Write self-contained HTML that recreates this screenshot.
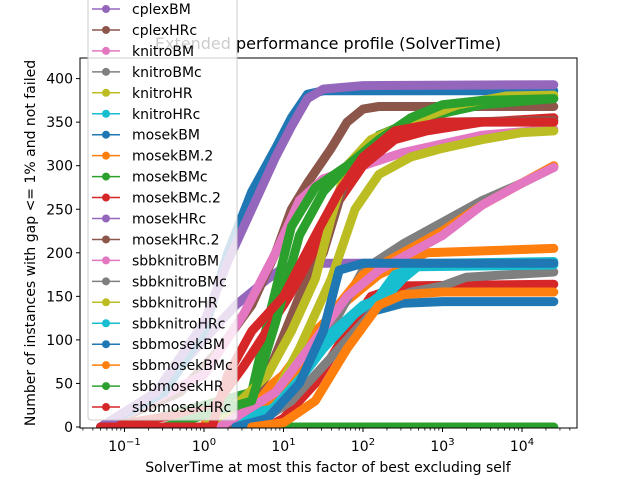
<!DOCTYPE html>
<html><head><meta charset="utf-8"><style>
html,body{margin:0;padding:0;background:#fff;}
svg{display:block;font-family:"DejaVu Sans","Liberation Sans",sans-serif;}
</style></head><body>
<svg id="chart" width="640" height="480" xmlns="http://www.w3.org/2000/svg">
<rect width="640" height="480" fill="#fff"/>
<text x="328" y="49" text-anchor="middle" font-size="16">Extended performance profile (SolverTime)</text>
<defs><clipPath id="plotclip"><rect x="80" y="58" width="497" height="370"/></clipPath></defs>
<g id="series" clip-path="url(#plotclip)"></g>
<rect x="80" y="58" width="497" height="370" fill="none" stroke="#000" stroke-width="1"/>
<g id="axes"></g>
<text x="328" y="472" text-anchor="middle" font-size="14">SolverTime at most this factor of best excluding self</text>
<text transform="translate(35,243) rotate(-90)" text-anchor="middle" font-size="14">Number of instances with gap &lt;= 1% and not failed</text>
<g id="legend"></g>
</svg>
<script>
const seriesNames=["bonminBM","bonminBMc","bonminHR","bonminHRc","cplexBM","cplexHRc","knitroBM","knitroBMc","knitroHR","knitroHRc","mosekBM","mosekBM.2","mosekBMc","mosekBMc.2","mosekHRc","mosekHRc.2","sbbknitroBM","sbbknitroBMc","sbbknitroHR","sbbknitroHRc","sbbmosekBM","sbbmosekBMc","sbbmosekHR","sbbmosekHRc"];
const colors=["#1f77b4","#ff7f0e","#2ca02c","#d62728","#9467bd","#8c564b","#e377c2","#7f7f7f","#bcbd22","#17becf"];
// log10(factor) values and instance counts per series
const s0x=[-1.3,0.3,0.6,1,1.5,2,2.5,3,4.4], s0y=[0,0,5,40,100,130,142,144,144];
const s1x=[-1.3,0,0.1,0.6,1,1.4,1.8,2.2,2.8,4.4], s1y=[0,0,28,30,60,110,145,175,200,205];
const s2x=[0,4.4], s2y=[0,0];
const s3x=[-1.3,0.05,0.8,1,1.4,1.8,2.1,2.5,4.4], s3y=[0,0,0,10,50,110,150,162,164];
const s4x=[-1.3,-0.6,0,0.4,0.8,1,1.3,4.4], s4y=[0,40,100,140,170,183,188,188];
const s5x=[-1.3,-0.3,0.2,0.6,0.9,1.1,1.3,1.6,1.8,2,2.2,4.4], s5y=[0,40,90,140,200,250,280,320,350,365,368,368];
const s6x=[-1.3,0,0.5,0.9,1.2,1.5,2,2.5,3,3.5,4.4], s6y=[0,60,130,200,260,285,300,315,325,335,342];
const s7x=[0.3,0.9,1.3,1.7,2,2.5,3,3.5,4,4.4], s7y=[0,20,70,130,180,210,235,260,280,298];
const s8x=[0.5,0.8,1.2,1.6,1.9,2.2,2.6,3,3.5,4,4.4], s8y=[0,20,90,170,250,290,310,320,330,338,340];
const s9x=[0.4,1,1.5,2,2.3,2.5,2.7,3,4.4], s9y=[0,40,100,140,150,170,185,188,190];
const s10x=[-1.3,-0.5,0,0.3,0.6,0.9,1.1,1.3,1.5,4.4], s10y=[0,40,110,200,270,320,355,382,386,386];
const s11x=[-1.3,0.2,0.4,0.8,1.2,1.6,2,2.5,3,3.5,4,4.4], s11y=[0,0,25,30,70,130,175,200,225,255,280,300];
const s12x=[-1,0.6,0.8,1.1,1.4,1.8,2.2,2.6,3,3.5,4.4], s12y=[0,40,120,230,275,300,335,350,360,370,377];
const s13x=[-1.3,0.1,0.5,1,1.4,1.7,2,2.4,2.8,3.5,4.4], s13y=[0,20,70,140,200,260,300,330,340,350,355];
const s14x=[-1.3,-0.6,0,0.3,0.6,0.9,1.1,1.3,1.5,2,4.4], s14y=[0,40,120,190,250,310,345,377,388,392,393];
const s15x=[0.3,0.8,1.2,1.5,1.8,2,2.4,3,4.4], s15y=[0,60,150,200,290,320,340,350,352];
const s16x=[0.2,0.9,1.4,1.8,2.2,2.6,3,3.5,4,4.4], s16y=[0,40,100,150,180,200,220,255,280,298];
const s17x=[0.6,1.1,1.5,1.9,2.2,2.6,3,3.3,4.4], s17y=[0,30,70,110,140,155,162,172,178];
const s18x=[0,0.4,0.8,1.1,1.4,1.6,1.8,2.1,2.6,3.2,3.8,4.4], s18y=[0,25,60,110,170,240,300,330,350,370,380,381];
const s19x=[0.5,1,1.5,1.9,2.2,2.4,2.7,4.4], s19y=[0,30,90,130,150,175,184,186];
const s20x=[0.4,0.8,1.2,1.5,1.7,2,4.4], s20y=[0,10,50,110,180,188,188];
const s21x=[0.6,1,1.4,1.8,2.2,2.5,3,4.4], s21y=[0,5,30,90,140,152,155,155];
const s22x=[-0.5,0.6,0.9,1.2,1.5,1.8,2.2,2.6,3,3.5,4.4], s22y=[0,30,120,220,270,300,330,355,370,375,377];
const s23x=[-1.3,0.1,0.3,0.6,1,1.4,1.7,2,2.4,3,4.4], s23y=[0,0,60,110,150,220,270,310,340,350,350];
const xs=[s0x,s1x,s2x,s3x,s4x,s5x,s6x,s7x,s8x,s9x,s10x,s11x,s12x,s13x,s14x,s15x,s16x,s17x,s18x,s19x,s20x,s21x,s22x,s23x];
const ys=[s0y,s1y,s2y,s3y,s4y,s5y,s6y,s7y,s8y,s9y,s10y,s11y,s12y,s13y,s14y,s15y,s16y,s17y,s18y,s19y,s20y,s21y,s22y,s23y];
const yTicks=[0,50,100,150,200,250,300,350,400];
const xTickExps=[-1,0,1,2,3,4];

const NS="http://www.w3.org/2000/svg";
function X(lx){return 204+79.5*lx;}
function Y(v){return 427-0.871*v;}
function mk(tag,attrs,parent){const e=document.createElementNS(NS,tag);for(const k in attrs)e.setAttribute(k,attrs[k]);parent.appendChild(e);return e;}
const sg=document.getElementById('series');
for(let i=0;i<xs.length;i++){
  const pts=xs[i].map((x,j)=>X(x).toFixed(1)+","+Y(ys[i][j]).toFixed(1)).join(" ");
  const pl=mk('polyline',{points:pts,fill:"none",stroke:colors[i%10],"stroke-width":9,"stroke-linejoin":"round","stroke-linecap":"round"},sg);
  
  
}
const ax=document.getElementById('axes');
yTicks.forEach(v=>{
  const t=mk('line',{x1:76,x2:80,y1:Y(v),y2:Y(v),stroke:"#000"},ax);
  
  
  const l=mk('text',{x:73,y:Y(v)+5,"text-anchor":"end","font-size":"14"},ax);
  l.textContent=v;
  
  
});
for(let e=-2;e<=4;e++){for(let m=2;m<=9;m++){const lx=e+Math.log10(m);const px=X(lx);if(px<80||px>577)continue;
  const t=mk('line',{x1:px,x2:px,y1:428,y2:430.5,stroke:"#000","stroke-width":0.8},ax);
  
  }}
xTickExps.forEach(e=>{
  const px=X(e);
  const t=mk('line',{x1:px,x2:px,y1:428,y2:432,stroke:"#000"},ax);
  
  
  const l=mk('text',{x:px,y:451,"text-anchor":"middle","font-size":"14"},ax);
  
  
  l.appendChild(document.createTextNode("10"));
  const s=mk('tspan',{dy:-6,"font-size":"10"},l);s.textContent=String(e).replace('-','\u2212');
});
const lg=document.getElementById('legend');
const box=mk('rect',{x:88,y:-95,width:149,height:515,rx:3,fill:"#fff","fill-opacity":0.8,stroke:"#ccc"},lg);


seriesNames.forEach((n,i)=>{
  const y=9+(i-4)*20.95;
  const g=mk('g',{},lg);
  
  
  mk('line',{x1:92,x2:120,y1:y,y2:y,stroke:colors[i%10],"stroke-width":1.5},g);
  mk('circle',{cx:106,cy:y,r:4,fill:colors[i%10]},g);
  const t=mk('text',{x:132,y:y+5,"font-size":"14"},g);t.textContent=n;
});
</script>
</body></html>
